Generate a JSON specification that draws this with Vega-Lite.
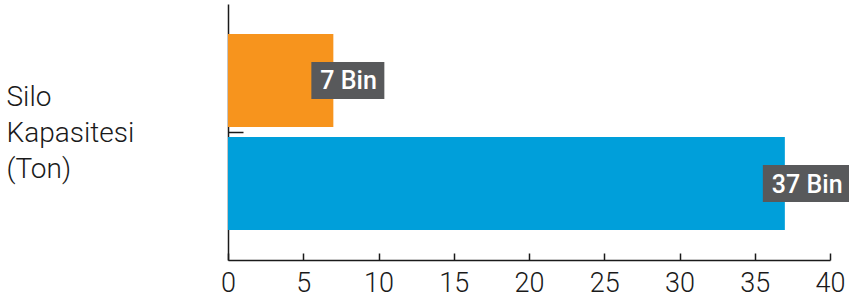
{
  "$schema": "https://vega.github.io/schema/vega-lite/v6.json",
  "width": 602,
  "height": 256,
  "autosize": {"type": "none"},
  "padding": {"left": 228, "top": 4, "right": 19, "bottom": 41},
  "background": "white",
  "config": {
    "view": {"stroke": null},
    "font": "Roboto",
    "axis": {"grid": false, "domainColor": "#1a1a1a", "domainWidth": 1.5, "tickColor": "#1a1a1a", "tickWidth": 1.5, "labelColor": "#1a1a1a", "labelFont": "Roboto", "labelFontWeight": 300}
  },
  "data": {
    "values": [
      {"kategori": "Silo Kapasitesi (Ton)", "seri": "Seri 1", "deger": 7, "etiket": "7 Bin"},
      {"kategori": "Silo Kapasitesi (Ton)", "seri": "Seri 2", "deger": 37, "etiket": "37 Bin"}
    ]
  },
  "encoding": {
    "y": {
      "field": "kategori", "type": "nominal",
      "scale": {"paddingInner": 0, "paddingOuter": 0.153},
      "axis": {"title": null, "labelExpr": "split(datum.label, ' ')", "labelAlign": "left", "labelBaseline": "middle", "labelPadding": 237, "labelOffset": -34, "labelFontSize": 28, "labelLineHeight": 36, "tickSize": -15, "labelLimit": 300}
    },
    "yOffset": {"field": "seri", "type": "nominal", "sort": ["Seri 1", "Seri 2"], "scale": {"paddingInner": 0.097, "paddingOuter": 0}}
  },
  "layer": [
    {
      "mark": {"type": "bar"},
      "encoding": {
        "x": {"field": "deger", "type": "quantitative", "scale": {"domain": [0, 40], "nice": false}, "axis": {"title": null, "values": [0, 5, 10, 15, 20, 25, 30, 35, 40], "tickSize": -7, "labelFontSize": 27, "labelPadding": 17, "labelFlush": false}},
        "color": {"field": "seri", "type": "nominal", "scale": {"domain": ["Seri 1", "Seri 2"], "range": ["#F7941D", "#009FDA"]}, "legend": null}
      }
    },
    {
      "transform": [{"filter": "datum.deger < 20"}],
      "mark": {"type": "rect", "color": "#58595B", "height": 37, "xOffset": -22, "x2Offset": 51},
      "encoding": {
        "x": {"field": "deger", "type": "quantitative"},
        "x2": {"field": "deger"}
      }
    },
    {
      "transform": [{"filter": "datum.deger >= 20"}],
      "mark": {"type": "rect", "color": "#58595B", "height": 37, "xOffset": -22, "x2Offset": 66},
      "encoding": {
        "x": {"field": "deger", "type": "quantitative"},
        "x2": {"field": "deger"}
      }
    },
    {
      "mark": {"type": "text", "align": "left", "baseline": "middle", "dx": -13, "dy": 1, "color": "white", "fontSize": 25, "fontWeight": 500, "font": "Roboto"},
      "encoding": {
        "x": {"field": "deger", "type": "quantitative"},
        "text": {"field": "etiket"}
      }
    }
  ]
}
